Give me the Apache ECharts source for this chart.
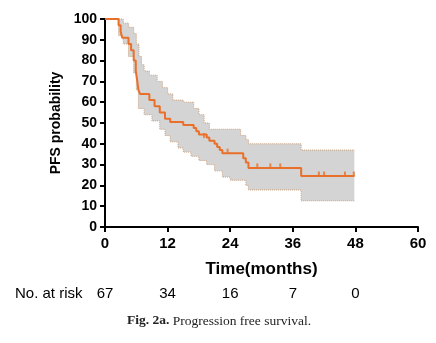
<!DOCTYPE html>
<html><head><meta charset="utf-8">
<script src="https://cdn.jsdelivr.net/npm/echarts@6/dist/echarts.min.js"></script>
<style>html,body{margin:0;padding:0;background:#fff}#c{width:436px;height:343px}</style>
</head><body><div id="c"></div>
<script>
// Kaplan-Meier step curve: [month, PFS %]
var kmCurve = [[0,100],[2.6,97],[3.0,94],[3.3,91],[4.5,88],[5.0,85],[5.5,80],[5.9,75],[6.2,70],[6.4,66],[6.7,64],[8.5,61],[9.5,58],[10.5,55],[11.5,52],[12.5,50.5],[15,49],[17,47.6],[17.5,46],[18,44.5],[19.5,43],[20,41.5],[21,40],[21.5,38.5],[22,37],[22.5,35.5],[26.5,33],[27,31],[27.5,28.4],[37.6,24.5],[47.8,24.5]];
// Censor marks
var censored = [[19,43],[23.5,35.5],[29.2,28.4],[31.7,28.4],[33.6,28.4],[41,24.5],[42,24.5],[46,24.5],[47.7,24.5]];
// Confidence band (step functions)
var ciUpper = [[0,100],[2.6,100],[3.5,98],[4.5,96],[5.5,93],[6,88],[6.5,82],[7,78],[7.5,75],[8.5,73],[10,70],[11,67],[12,64],[13,61],[15,60],[17,57],[18,54],[19,50],[20,47],[26,44],[27,42],[27.5,40],[37.6,37],[47.8,37]];
var ciLower = [[0,100],[2.6,92],[3.5,88],[4.5,82],[5.5,74],[6,66],[6.4,57],[7.5,54],[9,51],[10.5,47],[11.5,44],[12.5,41],[14,38],[15,36],[16.5,34],[18,32],[19.5,30],[21,27],[22.5,24],[24,22.5],[27,20],[27.5,17.8],[37.6,12.6],[47.8,12.6]];
var riskTimes = [0,12,24,36,48];
var riskCounts = ['67','34','16','7','0'];

function stepPts(arr){
  var out=[];
  for(var i=0;i<arr.length;i++){
    if(i>0) out.push([arr[i][0],arr[i-1][1]]);
    out.push(arr[i]);
  }
  return out;
}
var upPts = stepPts(ciUpper), loPts = stepPts(ciLower);

var chart = echarts.init(document.getElementById('c'));
var F = '"Liberation Sans", Arial, sans-serif';
var S = '"Liberation Serif", "DejaVu Serif", serif';
chart.setOption({
  animation:false,
  grid:{left:105,right:18,top:19,bottom:116},
  xAxis:{type:'value',min:0,max:60,interval:12,
    axisLine:{lineStyle:{color:'#000',width:2}},
    axisTick:{length:5,lineStyle:{color:'#000',width:2}},
    axisLabel:{color:'#000',fontFamily:F,fontWeight:'bold',fontSize:15,margin:9},
    splitLine:{show:false},
    name:'Time(months)',nameLocation:'middle',nameGap:34,
    nameTextStyle:{color:'#000',fontFamily:F,fontWeight:'bold',fontSize:17}},
  yAxis:{type:'value',min:0,max:100,interval:10,
    axisLine:{show:true,lineStyle:{color:'#000',width:2}},
    axisTick:{show:true,length:5,lineStyle:{color:'#000',width:2}},
    axisLabel:{color:'#000',fontFamily:F,fontWeight:'bold',fontSize:14,margin:8},
    splitLine:{show:false},
    name:'PFS probability',nameLocation:'middle',nameGap:39,
    nameTextStyle:{color:'#000',fontFamily:F,fontWeight:'bold',fontSize:14}},
  series:[
    {type:'custom',data:[[0,0]],z:1,
     renderItem:function(params,api){
       var up = upPts.map(function(p){return api.coord(p);});
       var lo = loPts.map(function(p){return api.coord(p);});
       var poly = up.concat(lo.slice().reverse());
       return {type:'group',children:[
         {type:'polygon',shape:{points:poly},style:{fill:'#d4d4d4',stroke:null}},
         {type:'polyline',shape:{points:up},style:{stroke:'#c9a07f',lineWidth:1,lineDash:[1,1],fill:null}},
         {type:'polyline',shape:{points:lo},style:{stroke:'#c9a07f',lineWidth:1,lineDash:[1,1],fill:null}}
       ]};
     }},
    {type:'line',data:kmCurve,step:'end',symbol:'none',z:3,
     lineStyle:{color:'#e8702a',width:2}},
    {type:'scatter',data:censored,symbol:'rect',symbolSize:[2,5],symbolOffset:[0,-2],z:4,
     itemStyle:{color:'#e8702a'}}
  ]
});
var gr = [];
riskTimes.forEach(function(t,i){
  var px = chart.convertToPixel({xAxisIndex:0},t);
  gr.push({type:'text',x:px,y:294,style:{text:riskCounts[i],fill:'#000',font:'15px '+F,textAlign:'center',textVerticalAlign:'middle'}});
});
gr.push({type:'text',x:15,y:294,style:{text:'No. at risk',fill:'#000',font:'15px '+F,textAlign:'left',textVerticalAlign:'middle'}});
gr.push({type:'text',x:127,y:321,style:{rich:{b:{fontFamily:S,fontWeight:'bold',fontSize:13.5,fill:'#222'},n:{fontFamily:S,fontSize:13.5,fill:'#222'}},text:'{b|Fig. 2a.} {n|Progression free survival.}',textVerticalAlign:'middle'}});
chart.setOption({graphic:gr});
</script></body></html>
